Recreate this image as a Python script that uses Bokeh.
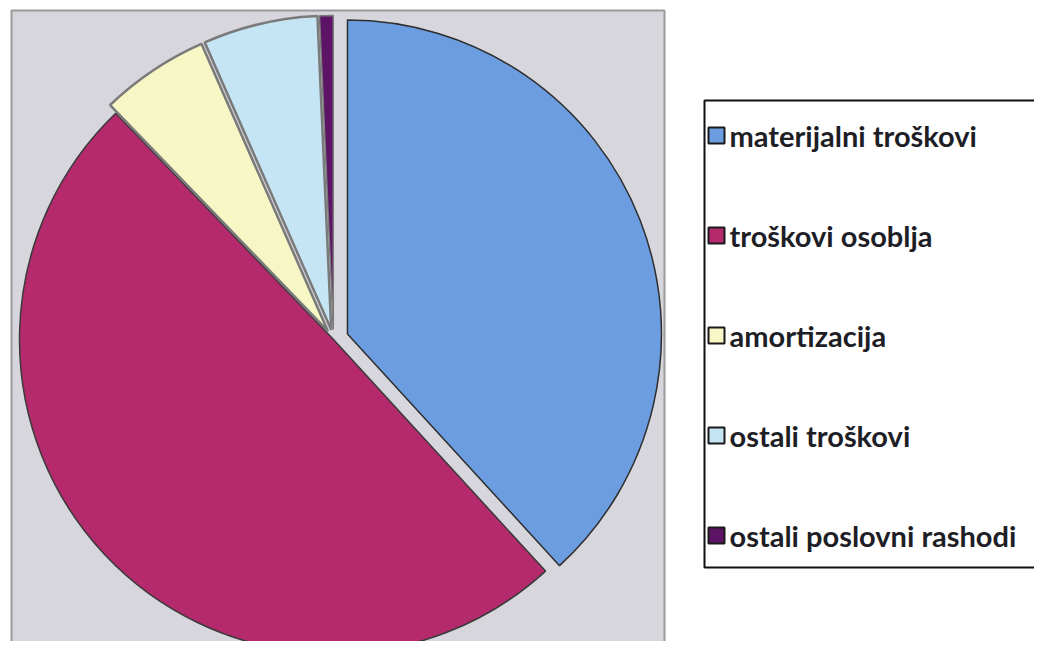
import math
from bokeh.plotting import figure
from bokeh.models import Range1d, ColumnDataSource
from bokeh.core.properties import value
from bokeh.embed import file_html
from bokeh.resources import INLINE

# ---- data ----
categories = ["materijalni troškovi", "troškovi osoblja", "amortizacija",
              "ostali troškovi", "ostali poslovni rashodi"]
shares = [38.2, 49.6, 5.6, 5.9, 0.7]

# ---- styles ----
colors = ["#6c9de0", "#b52a6c", "#f7f7c6", "#c5e5f5", "#5e1466"]
edge_colors = ["#2e2e2e", "#3a3a3a", "#7a7a7a", "#7a7a7a", "#7a7a7a"]
edge_widths = [1.5, 1.5, 2.5, 2.5, 1.5]
explode = [15, 0, 10, 10, 10]

W, H = 1034, 641
p = figure(width=W, height=H, output_backend="svg", toolbar_location=None,
           x_range=Range1d(8, 8 + W), y_range=Range1d(8, 8 + H),
           min_border=0, outline_line_color=None,
           background_fill_color="white", border_fill_color="white")
p.axis.visible = False
p.grid.visible = False

def Y(sy):
    return 657 - sy

# plot area
p.quad(left=[19], right=[672], top=[Y(18)], bottom=[Y(700)],
       fill_color="#d6d6dc", line_color="#9a9a9a", line_width=2)

# pie
cx, cy, R = 341, Y(347), 314
total = sum(shares)
starts, ends, xs, ys = [], [], [], []
ang = math.pi / 2
for v, e in zip(shares, explode):
    span = 2 * math.pi * v / total
    s, t = ang, ang - span
    mid = (s + t) / 2
    starts.append(t)
    ends.append(s)
    xs.append(cx + e * math.cos(mid))
    ys.append(cy + e * math.sin(mid))
    ang = t

src = ColumnDataSource(dict(x=xs, y=ys, start=starts, end=ends, color=colors,
                            lc=edge_colors, lw=edge_widths, name=categories))
p.wedge(x="x", y="y", radius=R, start_angle="start", end_angle="end",
        fill_color="color", line_color="lc", line_width="lw", source=src)

# legend (drawn manually)
p.quad(left=[712], right=[1100], top=[Y(108)], bottom=[Y(575)],
       fill_color="white", line_color="#111111", line_width=2)
first_y, pitch = 143, 100
lx = [724] * len(categories)
ly = [Y(first_y + i * pitch) for i in range(len(categories))]
p.rect(x=lx, y=ly, width=16, height=16, fill_color=colors,
       line_color="#1a1a1a", line_width=2)
p.text(x=[737] * len(categories), y=ly, text=categories,
       text_font=value("Lato"), text_font_style="bold",
       text_font_size="29px", text_color="#1e1e26",
       text_baseline="middle", text_align="left")

open("out.html", "w").write(file_html(p, INLINE))
